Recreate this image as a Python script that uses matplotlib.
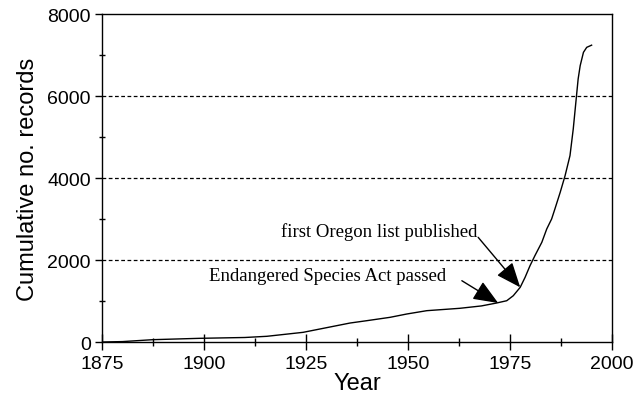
import numpy as np
import matplotlib
matplotlib.use("Agg")
import matplotlib.pyplot as plt
from matplotlib.ticker import MultipleLocator

years = [1875, 1880, 1887.5, 1899, 1910, 1915.4, 1924.3, 1928.4, 1935.8, 1939.9,
         1945.6, 1949.7, 1954.6, 1962.7, 1968, 1971.7, 1974.2, 1975.8, 1977.5,
         1978.7, 1979.9, 1981.1, 1982.8, 1984.0, 1985.2, 1986.0, 1987.3, 1988.5,
         1989.7, 1990.5, 1991.3, 1991.7, 1992.2, 1993.0, 1993.8, 1995.0]
records = [0, 10, 57, 90, 110, 139, 236, 317, 463, 520,
           602, 683, 764, 822, 880, 951, 1007, 1129, 1334,
           1578, 1860, 2105, 2432, 2756, 3000, 3244, 3650, 4057,
           4545, 5195, 6008, 6415, 6740, 7065, 7187, 7240]

esa_text = "Endangered Species Act passed"
oregon_text = "first Oregon list published"

plt.rcParams["font.family"] = ["Liberation Sans", "DejaVu Sans"]

fig = plt.figure(figsize=(6.43, 4.10), dpi=100)
ax = fig.add_axes([0.1586, 0.1634, 0.7932, 0.8])

ax.plot(years, records, color="black", linewidth=1.0)

ax.set_xlim(1875, 2000)
ax.set_ylim(0, 8000)
ax.xaxis.set_major_locator(MultipleLocator(25))
ax.xaxis.set_minor_locator(MultipleLocator(12.5))
ax.yaxis.set_major_locator(MultipleLocator(2000))
ax.yaxis.set_minor_locator(MultipleLocator(1000))
ax.tick_params(axis="x", which="major", direction="inout", length=11, width=1, labelsize=14, pad=4)
ax.tick_params(axis="x", which="minor", direction="inout", length=6, width=1)
ax.tick_params(axis="y", which="major", direction="out", length=5, width=1, labelsize=14, pad=3)
ax.tick_params(axis="y", which="minor", direction="inout", length=5, width=1)

for yv in [2000, 4000, 6000]:
    ax.axhline(yv, color="black", linewidth=0.9, linestyle=(0, (3, 2)), zorder=0)

for s in ax.spines.values():
    s.set_linewidth(1.0)

ax.set_xlabel("Year", fontsize=17, labelpad=0)
ax.set_ylabel("Cumulative no. records", fontsize=17, labelpad=6)

arrow = dict(arrowstyle="-|>,head_length=1.1,head_width=0.45", color="black",
             lw=1.0, mutation_scale=14, shrinkA=0, shrinkB=0)
ax.annotate("", xy=(1972.1, 951), xytext=(1963.2, 1495), arrowprops=arrow)
ax.annotate("", xy=(1977.5, 1334), xytext=(1967.2, 2553), arrowprops=arrow)
ax.text(1959.3, 1610, esa_text, ha="right", va="center",
        fontsize=13.5, family=["Liberation Serif", "DejaVu Serif"])
ax.text(1966.9, 2707, oregon_text, ha="right", va="center",
        fontsize=13.5, family=["Liberation Serif", "DejaVu Serif"])

fig.savefig("out.png", dpi=100)
